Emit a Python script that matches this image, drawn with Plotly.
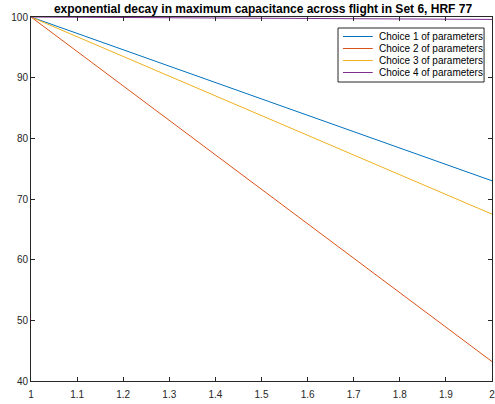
import plotly.graph_objects as go

# Flight progress (normalised) and maximum capacitance (%) for each parameter choice
x_vals = [1, 2]
choice_names = ["Choice 1 of parameters", "Choice 2 of parameters",
                "Choice 3 of parameters", "Choice 4 of parameters"]
choice_1 = [100, 73.0]
choice_2 = [100, 43.2]
choice_3 = [100, 67.5]
choice_4 = [100, 99.6]
colors = ["#0072BD", "#D95319", "#EDB120", "#7E2F8E"]

x_ticks = [1, 1.1, 1.2, 1.3, 1.4, 1.5, 1.6, 1.7, 1.8, 1.9, 2]
y_ticks = [40, 50, 60, 70, 80, 90, 100]

W, H = 495, 404
ML, MR, MT, MB = 31, 0, 17, 23
PW, PH = W - ML - MR, H - MT - MB
FONT = "Liberation Sans, Arial"


def px_x(px):
    return (px - ML) / PW


def px_y(py):
    return (H - MB - py) / PH


fig = go.Figure()
for name, ys, c in zip(choice_names, [choice_1, choice_2, choice_3, choice_4], colors):
    fig.add_trace(go.Scatter(x=x_vals, y=ys, mode="lines", name=name,
                             line=dict(color=c, width=1), showlegend=False))

# Boxed legend in the upper right corner
shapes = [dict(type="rect", xref="paper", yref="paper",
               x0=px_x(340), x1=px_x(487), y0=px_y(82), y1=px_y(28),
               line=dict(color="#262626", width=1), fillcolor="white", layer="above")]
annotations = []
for i, (name, c) in enumerate(zip(choice_names, colors)):
    yc = 36.5 + 12 * i
    shapes.append(dict(type="line", xref="paper", yref="paper",
                       x0=px_x(345), x1=px_x(375), y0=px_y(yc), y1=px_y(yc),
                       line=dict(color=c, width=1), layer="above"))
    annotations.append(dict(text=name, xref="paper", yref="paper",
                            x=px_x(379), y=px_y(yc), xanchor="left", yanchor="middle",
                            showarrow=False,
                            font=dict(family=FONT, size=10, color="black")))

axis_common = dict(showgrid=False, zeroline=False, showline=True, mirror="ticks",
                   linecolor="#262626", linewidth=1, ticks="inside", ticklen=4,
                   tickcolor="#262626", ticklabeloverflow="allow",
                   tickfont=dict(family=FONT, size=10, color="#262626"))

fig.update_layout(
    width=W, height=H,
    margin=dict(l=ML, r=MR, t=MT, b=MB),
    paper_bgcolor="white", plot_bgcolor="white",
    title=dict(text="<b>exponential decay in maximum capacitance across flight in Set 6, HRF 77</b>",
               x=263 / W, xanchor="center", y=1 - 8.5 / H, yanchor="middle",
               font=dict(family=FONT, size=12, color="black")),
    xaxis=dict(range=[1, 2], tickvals=x_ticks, ticktext=[f"{v:g}" for v in x_ticks],
               ticklabelstandoff=4, **axis_common),
    yaxis=dict(range=[40, 100], tickvals=y_ticks, **axis_common),
    shapes=shapes,
    annotations=annotations,
    showlegend=False,
)

fig.write_html("out.html")
